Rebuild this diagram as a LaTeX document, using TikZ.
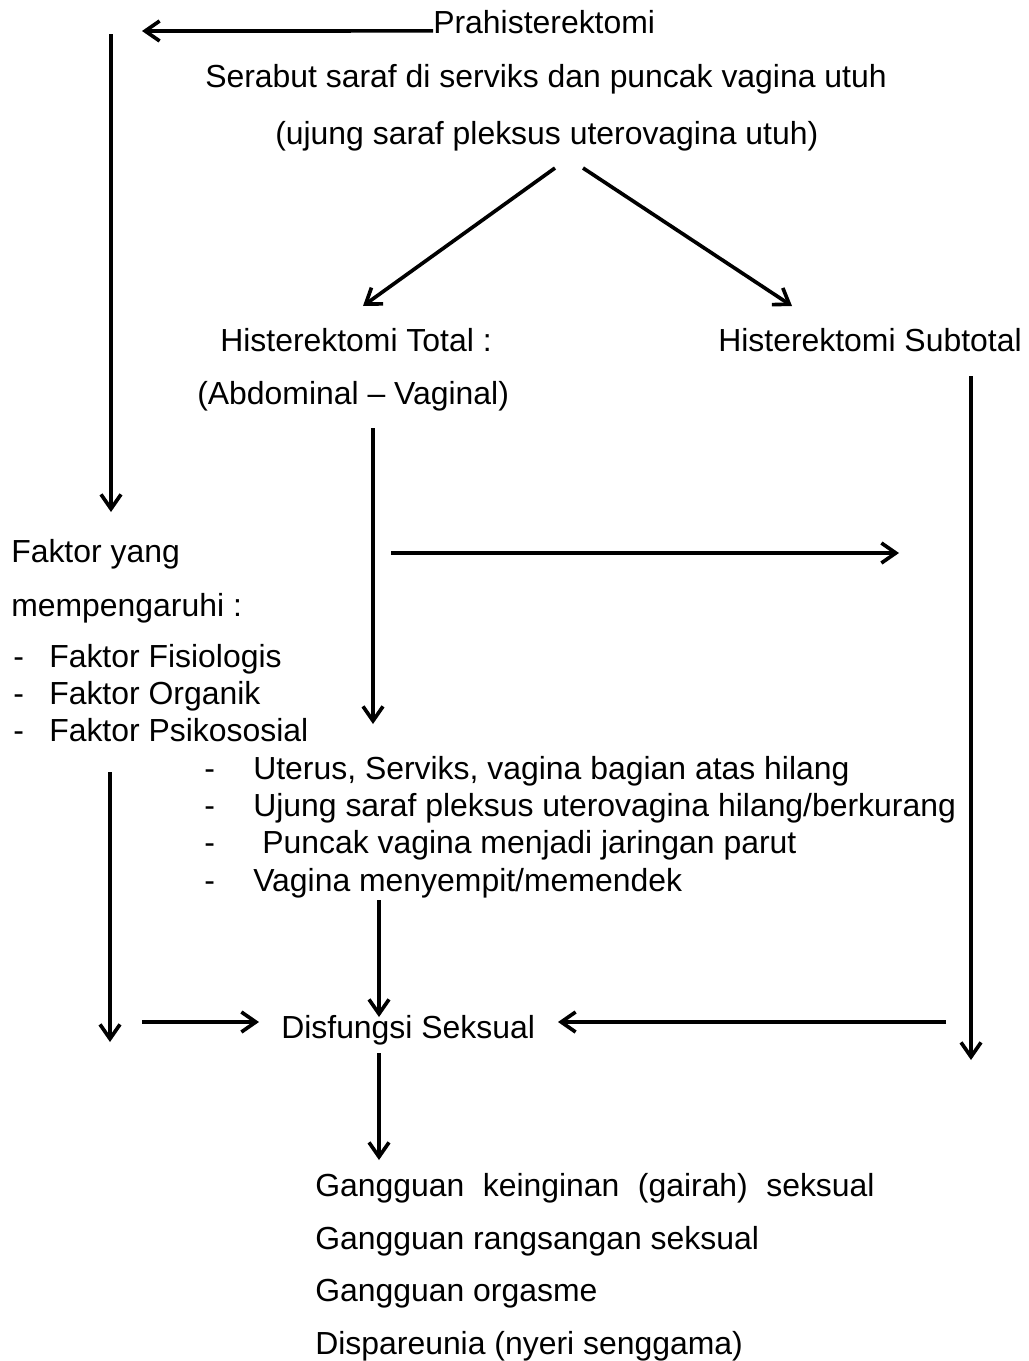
\documentclass[tikz,border=0pt]{standalone}
\usepackage{fontspec}
\setmainfont{Liberation Sans}
\usetikzlibrary{arrows.meta}

\begin{document}
\begin{tikzpicture}[x=0.025cm,y=-0.025cm,
    txt/.style={anchor=base west, inner sep=0pt, font=\fontsize{22.7}{27}\selectfont},
    arr/.style={line width=2.6pt, -{Straight Barb[length=0.36cm,width=0.5cm,line width=2.6pt]}}]
\useasboundingbox (0,0) rectangle (1028,1361);

% bagian atas
\node[txt] (pra) at (433,33) {Prahisterektomi};
\node[txt] (serabut) at (205,87) {Serabut saraf di serviks dan puncak vagina utuh};
\node[txt] (ujung) at (275,144) {(ujung saraf pleksus uterovagina utuh)};
\node[txt] (total) at (220,351) {Histerektomi Total :};
\node[txt] (abdvag) at (197,404) {(Abdominal – Vaginal)};
\node[txt] (subtotal) at (718,351) {Histerektomi Subtotal};

% faktor yang mempengaruhi
\node[txt] (faktor) at (11,562) {Faktor yang};
\node[txt] (pengaruh) at (11,616) {mempengaruhi :};
\foreach \y/\t [count=\i] in {667/Faktor Fisiologis, 704/Faktor Organik, 741/Faktor Psikososial} {
    \node[txt] (fdash\i) at (13,\y) {-};
    \node[txt] (f\i) at (49,\y) {\t};
}

% akibat histerektomi total
\foreach \x/\y/\t [count=\i] in {253/779/{Uterus, Serviks, vagina bagian atas hilang},
        253/816/{Ujung saraf pleksus uterovagina hilang/berkurang},
        262/853/{Puncak vagina menjadi jaringan parut},
        253/891/{Vagina menyempit/memendek}} {
    \node[txt] (adash\i) at (204,\y) {-};
    \node[txt] (a\i) at (\x,\y) {\t};
}

\node[txt] (dis) at (281,1038) {Disfungsi Seksual};

% gangguan
\foreach \y/\t [count=\i] in {1196/{Gangguan\hspace{0.24cm} keinginan\hspace{0.24cm} (gairah)\hspace{0.24cm} seksual},
        1249/{Gangguan rangsangan seksual}, 1301/{Gangguan orgasme}, 1354/{Dispareunia (nyeri senggama)}} {
    \node[txt] (g\i) at (315,\y) {\t};
}

% titik ujung panah
\coordinate (praEnd) at (142,31);
\coordinate (kiriA) at (111,34);
\coordinate (kiriB) at (111,512);
\coordinate (dgKiriA) at (555,168);
\coordinate (dgKiriB) at (363,306);
\coordinate (dgKananA) at (583,168);
\coordinate (dgKananB) at (792,306);
\coordinate (totA) at (373,428);
\coordinate (totB) at (373,724);
\coordinate (horA) at (391,553);
\coordinate (horB) at (899,553);
\coordinate (subA) at (971,376);
\coordinate (subB) at (971,1060);
\coordinate (kiriC) at (110,772);
\coordinate (kiriD) at (110,1042);
\coordinate (kiriE) at (142,1022);
\coordinate (disKiri) at (259,1022);
\coordinate (kananE) at (946,1022);
\coordinate (disKanan) at (558,1022);
\coordinate (listA) at (379,900);
\coordinate (listB) at (379,1017);
\coordinate (disA) at (379,1053);
\coordinate (disB) at (379,1160);

% panah
\draw[arr] ([yshift=1.5pt]pra.base west) -- (praEnd);
\draw[arr] (kiriA) -- (kiriB);
\draw[arr] (dgKiriA) -- (dgKiriB);
\draw[arr] (dgKananA) -- (dgKananB);
\draw[arr] (totA) -- (totB);
\draw[arr] (horA) -- (horB);
\draw[arr] (subA) -- (subB);
\draw[arr] (kiriC) -- (kiriD);
\draw[arr] (kiriE) -- (disKiri);
\draw[arr] (kananE) -- (disKanan);
\draw[arr] (listA) -- (listB);
\draw[arr] (disA) -- (disB);
\end{tikzpicture}
\end{document}
